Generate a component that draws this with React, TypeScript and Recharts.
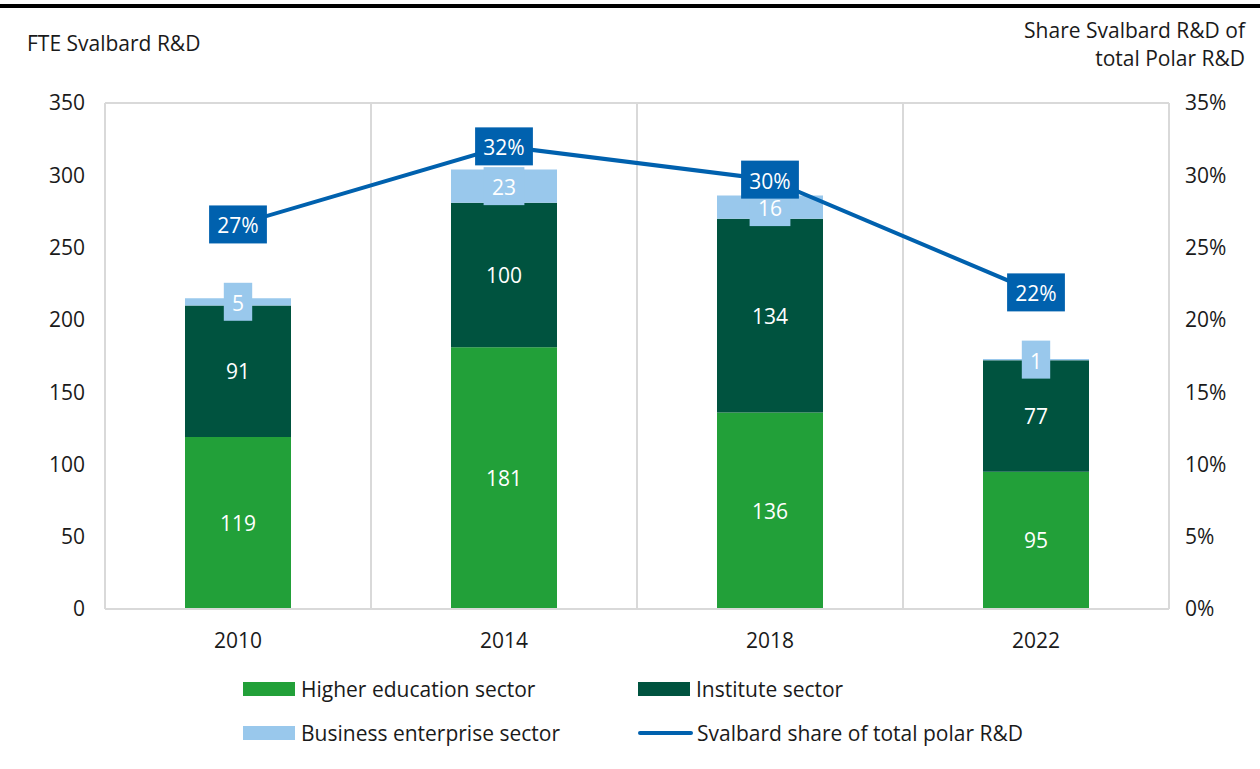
import {
  ComposedChart,
  Bar,
  Line,
  XAxis,
  YAxis,
  CartesianGrid,
  LabelList,
} from 'recharts'

const years = ['2010', '2014', '2018', '2022']
const higherEducation = [119, 181, 136, 95]
const institute = [91, 100, 134, 77]
const business = [5, 23, 16, 1]
const svalbardShare = [0.266, 0.32, 0.297, 0.219]
const leftTicks = [0, 50, 100, 150, 200, 250, 300, 350]
const rightTicks = [0, 0.05, 0.1, 0.15, 0.2, 0.25, 0.3, 0.35]

const GREEN = '#22a039'
const DARK_GREEN = '#00533f'
const LIGHT_BLUE = '#99c8ec'
const BLUE = '#0061ae'
const TEXT = '#1a1a1a'
const FONT = '"Open Sans", "Noto Sans", sans-serif'
const FS = 21

const data = years.map((y, i) => ({
  year: y,
  higher: higherEducation[i],
  institute: institute[i],
  business: business[i],
  share: svalbardShare[i],
}))

const legendItems = [
  { label: 'Higher education sector', color: GREEN, type: 'rect', x: 243, y: 689 },
  { label: 'Institute sector', color: DARK_GREEN, type: 'rect', x: 638, y: 689 },
  { label: 'Business enterprise sector', color: LIGHT_BLUE, type: 'rect', x: 243, y: 733 },
  { label: 'Svalbard share of total polar R&D', color: BLUE, type: 'line', x: 638, y: 733 },
]

const InnerLabel = (props: any) => {
  const { x, y, width, height, value } = props
  return (
    <text
      x={x + width / 2}
      y={y + height / 2}
      fill="#ffffff"
      fontSize={FS}
      fontFamily={FONT}
      textAnchor="middle"
      dominantBaseline="central"
    >
      {value}
    </text>
  )
}

// boxed label, box grows with the text
const BoxLabel = (fill: string, pct: boolean) => (props: any) => {
  const { x, y, width, height, value } = props
  const cx = width !== undefined ? x + width / 2 : x
  const cy = height !== undefined ? y + height / 2 : y
  const text = pct ? `${Math.round(value * 100)}%` : `${value}`
  const digits = text.replace('%', '').length
  const w = digits * 12.4 + (pct ? 17 : 0) + 16
  return (
    <g>
      <rect x={cx - w / 2} y={cy - 19} width={w} height={38} fill={fill} />
      <text
        x={cx}
        y={cy + 1}
        fill="#ffffff"
        fontSize={FS}
        fontFamily={FONT}
        textAnchor="middle"
        dominantBaseline="central"
      >
        {text}
      </text>
    </g>
  )
}

export default function App() {
  return (
    <div style={{ position: 'absolute', top: 0, left: 0, width: 1260, height: 769, background: '#fff', fontFamily: FONT }}>
      <div style={{ position: 'absolute', top: 4, left: 0, width: 1260, height: 4, background: '#000' }} />
      <div style={{ position: 'absolute', top: 29, left: 27, fontSize: FS, color: TEXT }}>FTE Svalbard R&D</div>
      <div style={{ position: 'absolute', top: 16, right: 15, fontSize: FS, color: TEXT, textAlign: 'right', lineHeight: '28px' }}>
        Share Svalbard R&D of
        <br />
        total Polar R&D
      </div>
      <ComposedChart
        width={1260}
        height={769}
        data={data}
        margin={{ top: 103, right: 6, bottom: 130, left: 0 }}
        barSize={106}
      >
        <CartesianGrid
          stroke="#d9d9d9"
          strokeWidth={2}
          verticalCoordinatesGenerator={({ offset }: any) =>
            [0, 1, 2, 3, 4].map(i => offset.left + (i * offset.width) / 4)
          }
        />
        <XAxis
          dataKey="year"
          axisLine={{ stroke: '#d9d9d9', strokeWidth: 2 }}
          tickLine={false}
          tick={{ fill: TEXT, fontSize: FS, fontFamily: FONT }}
          tickMargin={18}
        />
        <YAxis
          yAxisId="left"
          width={105}
          domain={[0, 350]}
          ticks={leftTicks}
          axisLine={false}
          tickLine={false}
          tick={{ fill: TEXT, fontSize: FS, fontFamily: FONT, dx: -12 }}
          interval={0}
        />
        <YAxis
          yAxisId="right"
          orientation="right"
          width={85}
          domain={[0, 0.35]}
          ticks={rightTicks}
          axisLine={false}
          tickLine={false}
          tickFormatter={v => `${Math.round(v * 100)}%`}
          tick={{ fill: TEXT, fontSize: FS, fontFamily: FONT, dx: 8 }}
          interval={0}
        />
        <Bar yAxisId="left" dataKey="higher" stackId="a" fill={GREEN} isAnimationActive={false}>
          <LabelList dataKey="higher" content={InnerLabel} />
        </Bar>
        <Bar yAxisId="left" dataKey="institute" stackId="a" fill={DARK_GREEN} isAnimationActive={false}>
          <LabelList dataKey="institute" content={InnerLabel} />
        </Bar>
        <Bar yAxisId="left" dataKey="business" stackId="a" fill={LIGHT_BLUE} isAnimationActive={false}>
          <LabelList dataKey="business" content={BoxLabel(LIGHT_BLUE, false)} />
        </Bar>
        <Line
          yAxisId="right"
          dataKey="share"
          stroke={BLUE}
          strokeWidth={4}
          dot={false}
          isAnimationActive={false}
        >
          <LabelList dataKey="share" content={BoxLabel(BLUE, true)} />
        </Line>
      </ComposedChart>
      {legendItems.map(item => (
        <div
          key={item.label}
          style={{
            position: 'absolute',
            left: item.x,
            top: item.y - 15,
            height: 30,
            display: 'flex',
            alignItems: 'center',
            fontSize: FS,
            color: TEXT,
            whiteSpace: 'nowrap',
          }}
        >
          {item.type === 'rect' ? (
            <span style={{ display: 'inline-block', width: 52, height: 14, background: item.color, marginRight: 6 }} />
          ) : (
            <span style={{ display: 'inline-block', width: 55, height: 4, borderRadius: 2, background: item.color, marginRight: 4 }} />
          )}
          {item.label}
        </div>
      ))}
    </div>
  )
}
